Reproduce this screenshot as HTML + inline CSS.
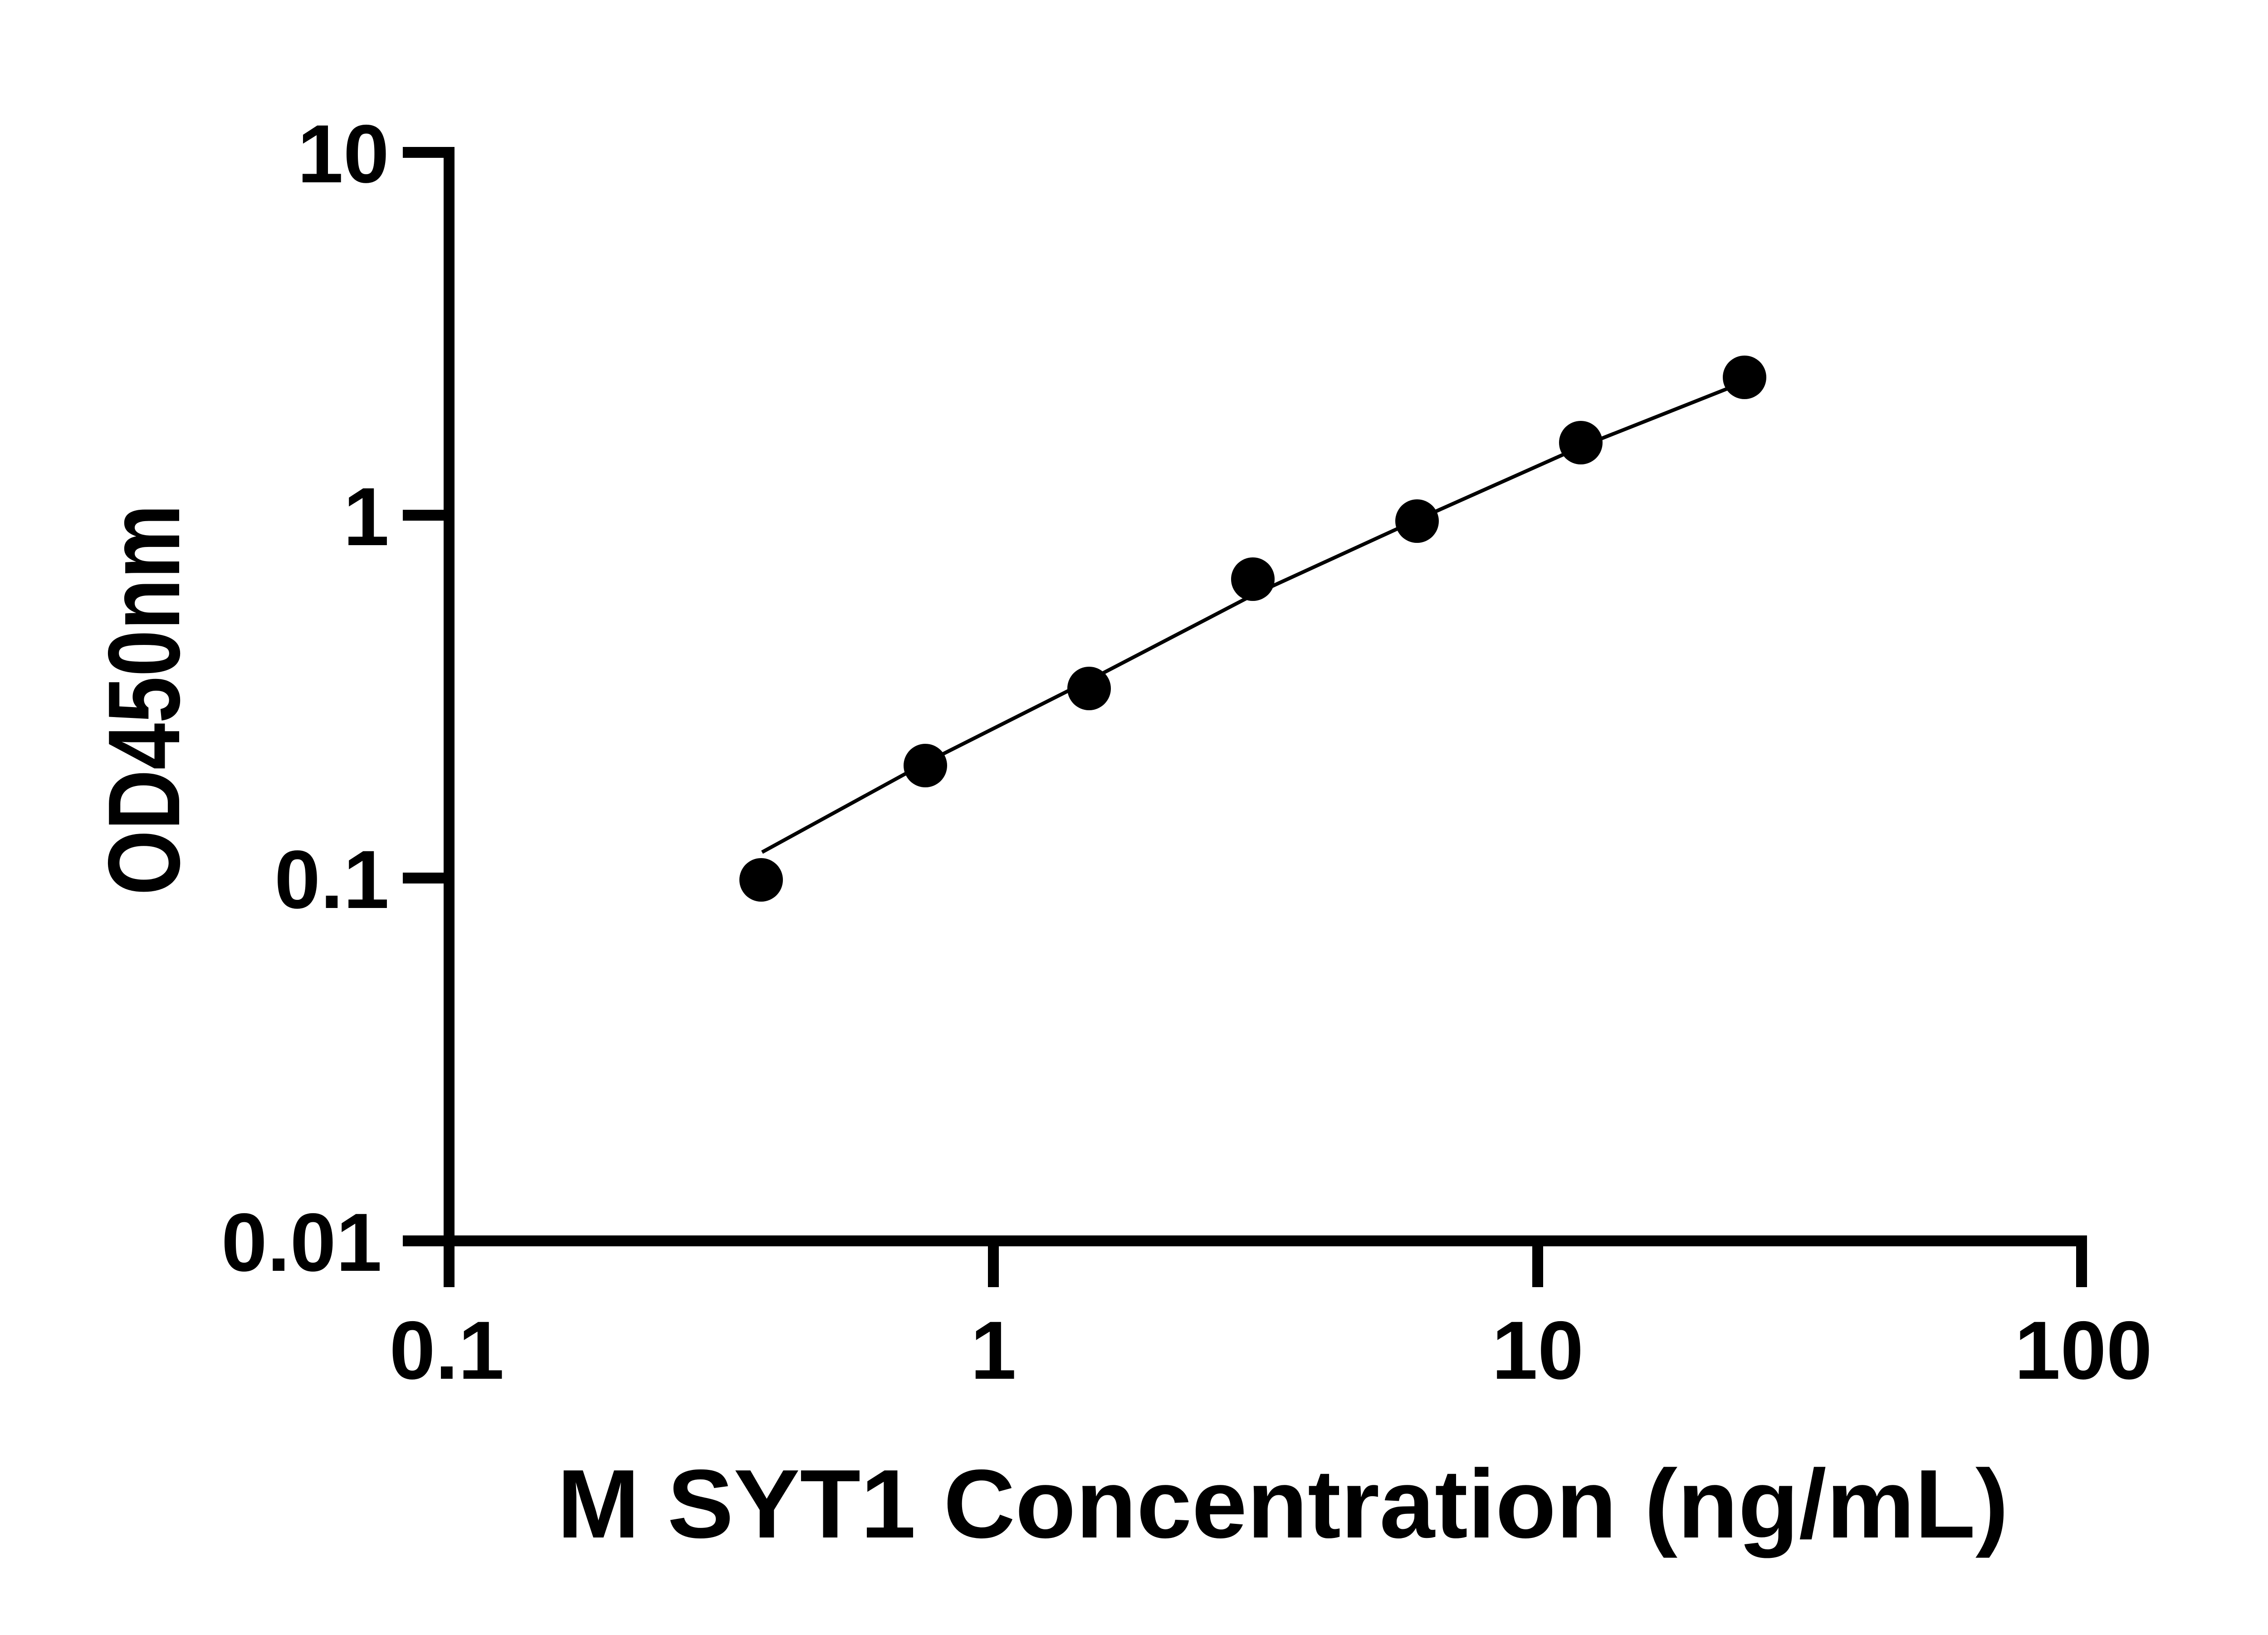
<!DOCTYPE html>
<html><head><style>html,body{margin:0;padding:0;background:#fff}</style></head>
<body>
<svg width="5142" height="3600" viewBox="0 0 5142 3600" xmlns="http://www.w3.org/2000/svg">
<rect width="5142" height="3600" fill="#fff"/>
<g stroke="#000" stroke-width="24" fill="none" stroke-linecap="butt">
  <line x1="990" y1="324" x2="990" y2="2838"/>
  <line x1="978" y1="2736" x2="4601" y2="2736"/>
  <line x1="888" y1="336" x2="1002" y2="336"/>
  <line x1="888" y1="1136" x2="990" y2="1136"/>
  <line x1="888" y1="1936" x2="990" y2="1936"/>
  <line x1="888" y1="2736" x2="990" y2="2736"/>
  <line x1="2190" y1="2736" x2="2190" y2="2838"/>
  <line x1="3390" y1="2736" x2="3390" y2="2838"/>
  <line x1="4589" y1="2724" x2="4589" y2="2838"/>
</g>
<g font-family="Liberation Sans, sans-serif" font-weight="bold" font-size="182" fill="#000">
  <text x="858" y="402" text-anchor="end">10</text>
  <text x="858" y="1202" text-anchor="end">1</text>
  <text x="858" y="2002" text-anchor="end">0.1</text>
  <text x="842" y="2802" text-anchor="end">0.01</text>
  <text x="985" y="3040" text-anchor="middle">0.1</text>
  <text x="2190" y="3040" text-anchor="middle">1</text>
  <text x="3390" y="3040" text-anchor="middle">10</text>
  <text x="4593" y="3040" text-anchor="middle">100</text>
</g>
<polyline fill="none" stroke="#000" stroke-width="8" points="1680,1879 2040,1682 2401,1500 2762,1312 3124,1146 3485,985 3846,842"/>
<g fill="#000">
  <circle cx="1678" cy="1940" r="48"/>
  <circle cx="2040" cy="1688" r="48"/>
  <circle cx="2401" cy="1518" r="48"/>
  <circle cx="2762" cy="1277" r="48"/>
  <circle cx="3124" cy="1149" r="48"/>
  <circle cx="3485" cy="976" r="48"/>
  <circle cx="3846" cy="832" r="48"/>
</g>
<text x="2828" y="3390" text-anchor="middle" font-family="Liberation Sans, DejaVu Sans, sans-serif" font-weight="bold" font-size="215" textLength="3200" lengthAdjust="spacingAndGlyphs">M SYT1 Concentration (ng/mL)</text>
<text transform="translate(395,1543) rotate(-90)" text-anchor="middle" font-family="Liberation Sans, DejaVu Sans, sans-serif" font-weight="bold" font-size="225" textLength="862" lengthAdjust="spacingAndGlyphs">OD450nm</text>
</svg>
</body></html>
